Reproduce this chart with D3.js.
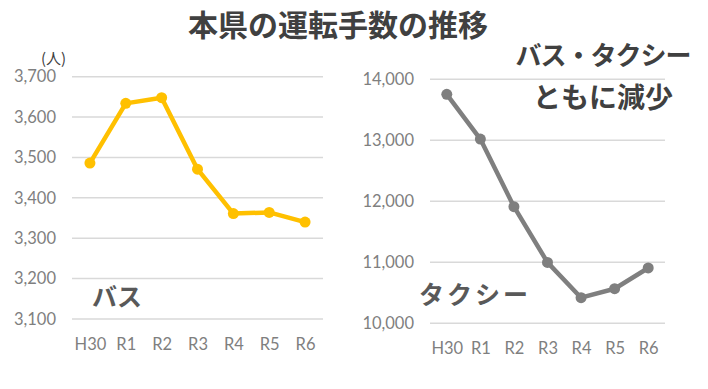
<!DOCTYPE html>
<html lang="ja">
<head>
<meta charset="utf-8">
<script src="https://cdn.jsdelivr.net/npm/d3@7/dist/d3.min.js"></script>
<style>
  html, body { margin: 0; padding: 0; background: #fff; }
  svg { display: block; }
  .tick text { font-family: Lato, "Open Sans", "Noto Sans CJK JP", sans-serif; }
</style>
</head>
<body>
<svg id="chart" width="708" height="389"></svg>
<script>
// 年度ラベル
const years = ["H30", "R1", "R2", "R3", "R4", "R5", "R6"];
// バス運転手数（人）
const busValues = [3486, 3634, 3648, 3471, 3361, 3364, 3340];
// タクシー運転手数（人）
const taxiValues = [13754, 13020, 11912, 10998, 10420, 10567, 10907];
// 目盛り
const busTicks = [3100, 3200, 3300, 3400, 3500, 3600, 3700];
const taxiTicks = [10000, 11000, 12000, 13000, 14000];

const svg = d3.select("#chart");
const jp = '"Noto Sans CJK JP", sans-serif';
const fmt = d3.format(",");

function panel(opts) {
  const x = d3.scalePoint().domain(years).range([opts.x0, opts.x1]).padding(0.5);
  const y = d3.scaleLinear().domain(opts.domain).range([opts.yBottom, opts.yTop]);
  const g = svg.append("g");

  // 横グリッド
  g.append("g")
    .selectAll("line").data(opts.ticks).join("line")
    .attr("x1", opts.x0).attr("x2", opts.x1)
    .attr("y1", d => y(d)).attr("y2", d => y(d))
    .attr("stroke", "#d9d9d9").attr("stroke-width", 1.5);

  // Y軸
  const ya = g.append("g")
    .attr("transform", `translate(${opts.x0 - 16},0)`)
    .call(d3.axisLeft(y).tickValues(opts.ticks).tickFormat(fmt).tickSize(0).tickPadding(0));
  ya.select(".domain").remove();
  ya.selectAll("text").attr("font-size", 16.5).attr("fill", "#7f7f7f");

  // X軸
  const xa = g.append("g")
    .attr("transform", `translate(0,${opts.yBottom + 19})`)
    .call(d3.axisBottom(x).tickSize(0).tickPadding(0));
  xa.select(".domain").remove();
  xa.selectAll("text").attr("font-size", 16.5).attr("fill", "#7f7f7f").attr("dy", "0.71em");

  // 折れ線
  const line = d3.line().x((d, i) => x(years[i])).y(d => y(d));
  g.append("path").datum(opts.values)
    .attr("d", line)
    .attr("fill", "none")
    .attr("stroke", opts.color)
    .attr("stroke-width", 4.5)
    .attr("stroke-linejoin", "round");
  g.append("g").selectAll("circle").data(opts.values).join("circle")
    .attr("cx", (d, i) => x(years[i]))
    .attr("cy", d => y(d))
    .attr("r", 5.5)
    .attr("fill", opts.color);
  return { x, y };
}

panel({
  x0: 72, x1: 323, yTop: 76.7, yBottom: 319,
  domain: [3100, 3700], ticks: busTicks, values: busValues, color: "#ffc000"
});

panel({
  x0: 430, x1: 665, yTop: 79.3, yBottom: 323.3,
  domain: [10000, 14000], ticks: taxiTicks, values: taxiValues, color: "#7f7f7f"
});

// 単位
svg.append("text").attr("x", 41).attr("y", 64)
  .attr("font-family", jp).attr("font-size", 15).attr("fill", "#404040")
  .text("(人)");

// 系列名
svg.append("text").attr("x", 92).attr("y", 306)
  .attr("font-family", jp).attr("font-weight", "bold").attr("font-size", 25)
  .attr("fill", "#595959").text("バス");
svg.append("text").attr("x", 419).attr("y", 304)
  .attr("font-family", jp).attr("font-weight", "bold").attr("font-size", 25)
  .attr("letter-spacing", 3)
  .attr("fill", "#595959").text("タクシー");

// タイトル
svg.append("text").attr("x", 338).attr("y", 36)
  .attr("text-anchor", "middle")
  .attr("font-family", jp).attr("font-weight", "bold").attr("font-size", 30)
  .attr("fill", "#404040").text("本県の運転手数の推移");

// 見出し
svg.append("text").attr("x", 603).attr("y", 65)
  .attr("text-anchor", "middle")
  .attr("font-family", jp).attr("font-weight", "bold").attr("font-size", 26)
  .attr("letter-spacing", -1)
  .attr("fill", "#404040").text("バス・タクシー");
svg.append("text").attr("x", 603).attr("y", 108)
  .attr("text-anchor", "middle")
  .attr("font-family", jp).attr("font-weight", "bold").attr("font-size", 28)
  .attr("fill", "#404040").text("ともに減少");
</script>
</body>
</html>
